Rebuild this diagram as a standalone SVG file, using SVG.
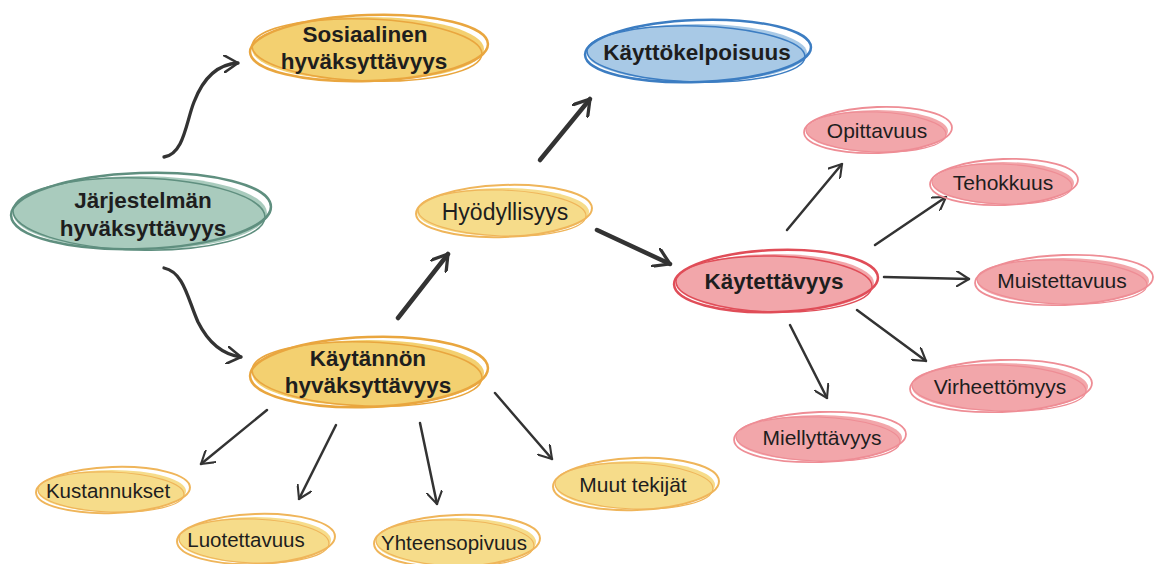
<svg xmlns="http://www.w3.org/2000/svg" width="1156" height="564" viewBox="0 0 1156 564">
<style>
.t{font-family:"Liberation Sans",Arial,sans-serif;fill:#1e1e1e;text-anchor:middle}
.b{font-weight:bold;font-size:22.5px}
.r{font-size:20.5px}
.p{font-size:21px}
.h{font-size:23px}
.c{fill:none;stroke:#333;stroke-width:2.5;stroke-linecap:round}
.cv{stroke-width:3.3}
.k{stroke-width:4.5}
.ln{fill:none}
.gr .f{fill:#a9cbbd}.gr .ln{stroke:#5f8f7f}
.ye .f{fill:#f3d070}.ye .ln{stroke:#e9a63f}
.yl .f{fill:#f6dc8a}.yl .ln{stroke:#efb55a}
.bl .f{fill:#a8c9e6}.bl .ln{stroke:#3c7dc2}
.rd .f{fill:#f2a6aa}.rd .ln{stroke:#e04d58}
.pk .f{fill:#f2a6aa}.pk .ln{stroke:#ee8d95}
</style>
<defs>
<marker id="ah" viewBox="0 0 10 10" refX="8" refY="5" markerWidth="6.5" markerHeight="6.5" orient="auto" markerUnits="strokeWidth">
<path d="M0,0 L8,5 L0,10" fill="none" stroke="#333" stroke-width="1.3" stroke-linecap="round" stroke-linejoin="round"/>
</marker>
<marker id="ahc" viewBox="0 0 10 10" refX="8" refY="5" markerWidth="5.5" markerHeight="5.5" orient="auto" markerUnits="strokeWidth">
<path d="M0,0 L8,5 L0,10" fill="none" stroke="#333" stroke-width="1.4" stroke-linecap="round" stroke-linejoin="round"/>
</marker>
<marker id="ahk" viewBox="0 0 10 10" refX="8" refY="5" markerWidth="4.5" markerHeight="4.5" orient="auto" markerUnits="strokeWidth">
<path d="M0,0 L8,5 L0,10" fill="none" stroke="#333" stroke-width="1.6" stroke-linecap="round" stroke-linejoin="round"/>
</marker>
</defs>
<rect width="1156" height="564" fill="#fff"/>

<g id="connectors">
<path class="c cv" d="M164,157 C184,154 186,122 194,102 C204,76 220,64 238,63" marker-end="url(#ahc)"/>
<path class="c cv" d="M164,268 C184,272 188,300 198,322 C210,346 226,355 241,357" marker-end="url(#ahc)"/>
<path class="c k" d="M398,318 L448,254" marker-end="url(#ahk)"/>
<path class="c k" d="M540,160 L590,99" marker-end="url(#ahk)"/>
<path class="c k" d="M597,230 L670,264" marker-end="url(#ahk)"/>
<path class="c" d="M787,230 L842,164" marker-end="url(#ah)"/>
<path class="c" d="M875,245 L946,197" marker-end="url(#ah)"/>
<path class="c" d="M884,277 L969,279" marker-end="url(#ah)"/>
<path class="c" d="M857,310 L926,361" marker-end="url(#ah)"/>
<path class="c" d="M790,325 L827,398" marker-end="url(#ah)"/>
<path class="c" d="M267,410 L201,464" marker-end="url(#ah)"/>
<path class="c" d="M336,425 L299,499" marker-end="url(#ah)"/>
<path class="c" d="M420,423 L437,504" marker-end="url(#ah)"/>
<path class="c" d="M495,393 L552,459" marker-end="url(#ah)"/>
</g>

<g id="jarjestelman" class="gr">
<ellipse class="f" cx="140" cy="213" rx="127" ry="37"/>
<ellipse class="ln" cx="141" cy="211" rx="130" ry="38" stroke-width="2.5" transform="rotate(-2 141 211)"/>
<ellipse class="ln" cx="139" cy="214" rx="126" ry="36" stroke-width="1.5" transform="rotate(1.5 139 214)"/>
<text class="t b" x="143" y="208">Järjestelmän</text>
<text class="t b" x="143" y="236">hyväksyttävyys</text>
</g>

<g id="sosiaalinen" class="ye">
<ellipse class="f" cx="368" cy="49" rx="116" ry="32"/>
<ellipse class="ln" cx="369" cy="48" rx="119" ry="33" stroke-width="2.5" transform="rotate(-2 369 48)"/>
<ellipse class="ln" cx="367" cy="50" rx="115" ry="31" stroke-width="1.5" transform="rotate(2 367 50)"/>
<text class="t b" x="365" y="42">Sosiaalinen</text>
<text class="t b" x="364" y="69">hyväksyttävyys</text>
</g>

<g id="kayttokelpoisuus" class="bl">
<ellipse class="f" cx="697" cy="53" rx="110" ry="29"/>
<ellipse class="ln" cx="698" cy="51" rx="113" ry="31" stroke-width="2.5" transform="rotate(-2 698 51)"/>
<ellipse class="ln" cx="696" cy="54" rx="109" ry="28" stroke-width="1.5" transform="rotate(1.5 696 54)"/>
<text class="t b" x="697" y="60">Käyttökelpoisuus</text>
</g>

<g id="hyodyllisyys" class="yl">
<ellipse class="f" cx="503" cy="212" rx="86" ry="24"/>
<ellipse class="ln" cx="504" cy="211" rx="88" ry="26" stroke-width="2" transform="rotate(-2 504 211)"/>
<ellipse class="ln" cx="502" cy="213" rx="84" ry="23" stroke-width="1.2" transform="rotate(2 502 213)"/>
<text class="t h" x="505" y="220">Hyödyllisyys</text>
</g>

<g id="kaytettavyys" class="rd">
<ellipse class="f" cx="775" cy="283" rx="99" ry="29"/>
<ellipse class="ln" cx="776" cy="281" rx="102" ry="31" stroke-width="2.5" transform="rotate(-2 776 281)"/>
<ellipse class="ln" cx="774" cy="284" rx="98" ry="28" stroke-width="1.5" transform="rotate(1.5 774 284)"/>
<text class="t b" x="774" y="289">Käytettävyys</text>
</g>

<g id="kaytannon" class="ye">
<ellipse class="f" cx="368" cy="373" rx="116" ry="33"/>
<ellipse class="ln" cx="369" cy="372" rx="119" ry="35" stroke-width="2.5" transform="rotate(-2 369 372)"/>
<ellipse class="ln" cx="367" cy="374" rx="115" ry="32" stroke-width="1.5" transform="rotate(2 367 374)"/>
<text class="t b" x="368" y="366">Käytännön</text>
<text class="t b" x="368" y="393">hyväksyttävyys</text>
</g>

<g id="kustannukset" class="yl">
<ellipse class="f" cx="112" cy="491" rx="74" ry="21"/>
<ellipse class="ln" cx="113" cy="490" rx="77" ry="23" stroke-width="2" transform="rotate(-2 113 490)"/>
<ellipse class="ln" cx="111" cy="492" rx="73" ry="20" stroke-width="1.2" transform="rotate(2 111 492)"/>
<text class="t r" x="108" y="498">Kustannukset</text>
</g>

<g id="luotettavuus" class="yl">
<ellipse class="f" cx="255" cy="540" rx="76" ry="23"/>
<ellipse class="ln" cx="256" cy="539" rx="79" ry="25" stroke-width="2" transform="rotate(-2 256 539)"/>
<ellipse class="ln" cx="254" cy="541" rx="75" ry="22" stroke-width="1.2" transform="rotate(2 254 541)"/>
<text class="t r" x="246" y="547">Luotettavuus</text>
</g>

<g id="yhteensopivuus" class="yl">
<ellipse class="f" cx="456" cy="542" rx="80" ry="24"/>
<ellipse class="ln" cx="457" cy="541" rx="83" ry="26" stroke-width="2" transform="rotate(-2 457 541)"/>
<ellipse class="ln" cx="455" cy="543" rx="79" ry="23" stroke-width="1.2" transform="rotate(2 455 543)"/>
<text class="t r" x="454" y="550">Yhteensopivuus</text>
</g>

<g id="muut" class="yl">
<ellipse class="f" cx="635" cy="485" rx="80" ry="24"/>
<ellipse class="ln" cx="636" cy="484" rx="83" ry="26" stroke-width="2" transform="rotate(-2 636 484)"/>
<ellipse class="ln" cx="634" cy="486" rx="79" ry="23" stroke-width="1.2" transform="rotate(2 634 486)"/>
<text class="t p" x="633" y="492">Muut tekijät</text>
</g>

<g id="opittavuus" class="pk">
<ellipse class="f" cx="877" cy="131" rx="71" ry="21"/>
<ellipse class="ln" cx="878" cy="130" rx="74" ry="23" stroke-width="1.8" transform="rotate(-2 878 130)"/>
<ellipse class="ln" cx="876" cy="132" rx="70" ry="20" stroke-width="1.2" transform="rotate(2 876 132)"/>
<text class="t p" x="877" y="138">Opittavuus</text>
</g>

<g id="tehokkuus" class="pk">
<ellipse class="f" cx="1003" cy="183" rx="71" ry="21"/>
<ellipse class="ln" cx="1004" cy="182" rx="74" ry="23" stroke-width="1.8" transform="rotate(-2 1004 182)"/>
<ellipse class="ln" cx="1002" cy="184" rx="70" ry="20" stroke-width="1.2" transform="rotate(2 1002 184)"/>
<text class="t p" x="1003" y="190">Tehokkuus</text>
</g>

<g id="muistettavuus" class="pk">
<ellipse class="f" cx="1063" cy="281" rx="86" ry="23"/>
<ellipse class="ln" cx="1064" cy="280" rx="89" ry="25" stroke-width="1.8" transform="rotate(-2 1064 280)"/>
<ellipse class="ln" cx="1062" cy="282" rx="85" ry="22" stroke-width="1.2" transform="rotate(2 1062 282)"/>
<text class="t p" x="1062" y="288">Muistettavuus</text>
</g>

<g id="virheettomyys" class="pk">
<ellipse class="f" cx="1000" cy="387" rx="88" ry="24"/>
<ellipse class="ln" cx="1001" cy="386" rx="91" ry="26" stroke-width="1.8" transform="rotate(-2 1001 386)"/>
<ellipse class="ln" cx="999" cy="388" rx="87" ry="23" stroke-width="1.2" transform="rotate(2 999 388)"/>
<text class="t p" x="1000" y="394">Virheettömyys</text>
</g>

<g id="miellyttavyys" class="pk">
<ellipse class="f" cx="819" cy="438" rx="83" ry="23"/>
<ellipse class="ln" cx="820" cy="437" rx="86" ry="25" stroke-width="1.8" transform="rotate(-2 820 437)"/>
<ellipse class="ln" cx="818" cy="439" rx="82" ry="22" stroke-width="1.2" transform="rotate(2 818 439)"/>
<text class="t p" x="822" y="445">Miellyttävyys</text>
</g>
</svg>
